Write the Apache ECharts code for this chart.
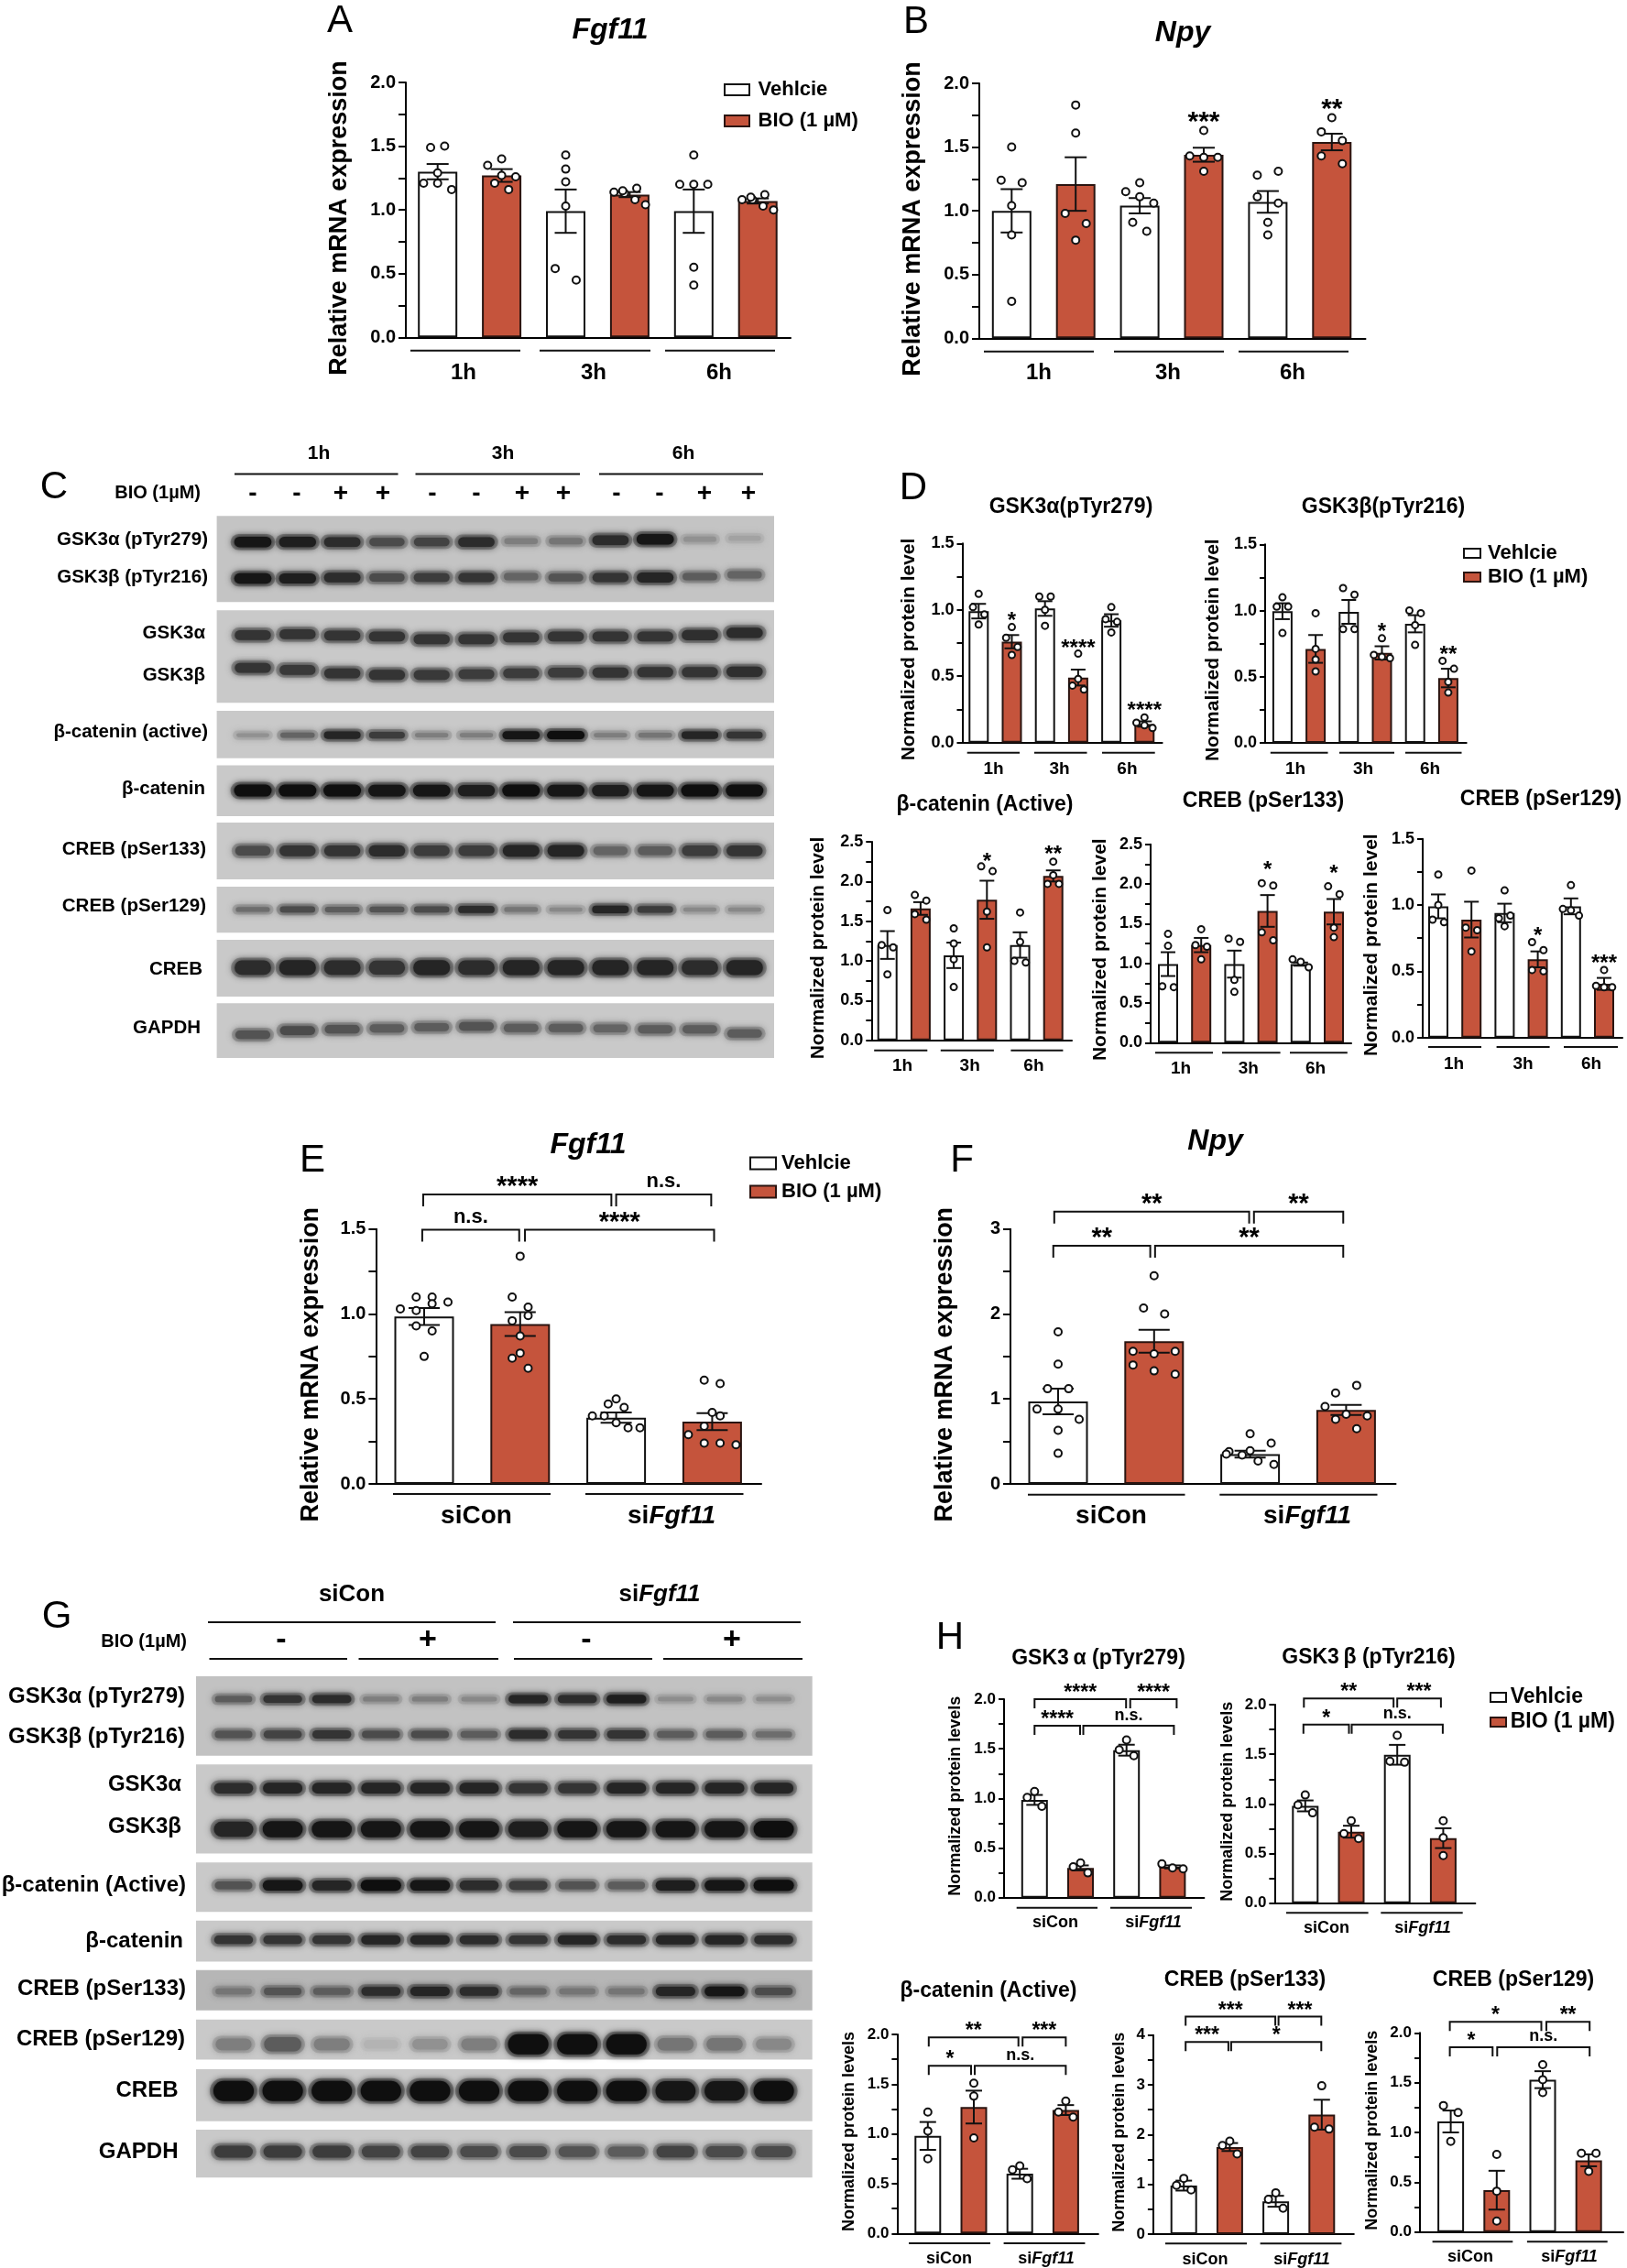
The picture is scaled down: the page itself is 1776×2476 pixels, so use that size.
<!DOCTYPE html>
<html>
<head>
<meta charset="utf-8">
<title>BIO Fgf11 Npy figure</title>
<script src="https://cdn.jsdelivr.net/npm/echarts@6/dist/echarts.min.js"></script>
<style>
  body { margin: 0; background: #fff; }
  #chart { width: 1776px; height: 2476px; }
</style>
</head>
<body>
<div id="chart"></div>
<script>
// dots are stored per bar as rows, left to right
// [a, null, b] is a pair that sits wider apart than a normal pair
const timeGroups = ['1h', '3h', '6h'];
const siGroups = ['siCon', 'si{i|Fgf11}'];
const groupSign = ['-', '-', '+', '+', '-', '-', '+', '+', '-', '-', '+', '+'];

// A
const fgf11TimeMeans = [1.30, 1.27, 0.99, 1.12, 0.99, 1.07];
const fgf11TimeSems = [0.06, 0.05, 0.17, 0.02, 0.17, 0.02];
const fgf11TimeDots = [
  [[1.49, 1.50], [1.29], [1.21, 1.21, 1.16]],
  [[1.40], [1.35, 1.27, 1.26], [1.21, 1.16]],
  [[1.43], [1.32], [1.22], [1.03], [0.54, null, 0.45]],
  [[1.14, 1.13, 1.08, 1.04], [1.15, 1.17]],
  [[1.43], [1.20, 1.20, 1.20], [0.55], [0.41]],
  [[1.08, 1.08, 1.03, 1.00], [1.10, 1.12]]
];

// B
const npyTimeMeans = [1.00, 1.21, 1.04, 1.44, 1.07, 1.54];
const npyTimeSems = [0.17, 0.21, 0.06, 0.055, 0.085, 0.065];
const npyTimeDots = [
  [[1.50], [1.24, null, 1.22], [1.04], [0.81], [0.29]],
  [[1.83], [1.61], [0.98, null, 0.90], [0.77]],
  [[1.22], [1.15, 1.11, 1.06], [0.91, 0.84]],
  [[1.63], [1.43, 1.42, 1.42], [1.31]],
  [[1.28, null, 1.31], [1.11, null, 1.06], [0.91], [0.81]],
  [[1.73], [1.62, null, 1.55], [1.43, null, 1.37]]
];
const npyTimeSigs = [[3, 1.74, '***'], [5, 1.84, '**']];

// D
const gsk3aMeans = [0.99, 0.76, 1.01, 0.49, 0.92, 0.14];
const gsk3aSems = [0.055, 0.05, 0.055, 0.06, 0.047, 0.02];
const gsk3aDots = [
  [[1.12], [1.02, 0.965], [0.89]],
  [[0.87], [0.79, 0.72], [0.66]],
  [[1.10, 1.10], [1.00], [0.88]],
  [[0.67], [0.48], [0.43, 0.40]],
  [[1.02], [0.93, 0.91], [0.83]],
  [[0.19], [0.15, 0.13, 0.11]]
];
const gsk3aSigs = [[1, 0.95, '*'], [3, 0.74, '****'], [5, 0.27, '****']];

const gsk3bMeans = [0.995, 0.71, 0.99, 0.68, 0.90, 0.49];
const gsk3bSems = [0.06, 0.105, 0.09, 0.05, 0.065, 0.07];
const gsk3bDots = [
  [[1.10], [1.03, 1.03], [0.83]],
  [[0.98], [0.71], [0.63], [0.54]],
  [[1.17, 1.12], [0.86, 0.86]],
  [[0.79], [0.665, 0.65, 0.64]],
  [[1.00, 0.98], [0.89], [0.74]],
  [[0.62, 0.56], [0.46], [0.38]]
];
const gsk3bSigs = [[3, 0.87, '*'], [5, 0.70, '**']];

const bcatMeans = [1.20, 1.66, 1.07, 1.77, 1.20, 2.07];
const bcatSems = [0.175, 0.08, 0.16, 0.24, 0.16, 0.07];
const bcatDots = [
  [[1.64], [1.20, 1.17], [0.83]],
  [[1.83, 1.76], [1.59, 1.52]],
  [[1.41], [1.22], [1.02], [0.67]],
  [[2.19, 2.13], [1.62], [1.17]],
  [[1.61], [1.24], [1.00, 0.98]],
  [[2.25], [2.08], [1.97, 1.97]]
];
const bcatSigs = [[3, 2.30, '*'], [5, 2.39, '**']];

const creb133Means = [0.99, 1.23, 0.99, 1.66, 0.99, 1.65];
const creb133Sems = [0.15, 0.09, 0.17, 0.20, 0.02, 0.16];
const creb133Dots = [
  [[1.37], [1.22], [0.71, 0.70]],
  [[1.43], [1.23, 1.21], [1.05]],
  [[1.31, 1.27], [0.79], [0.64]],
  [[2.01, 1.98], [1.39, 1.29]],
  [[1.05, 1.02, 0.95]],
  [[1.97, 1.87], [1.45], [1.33]]
];
const creb133Sigs = [[3, 2.23, '*'], [5, 2.18, '*']];

const creb129Means = [0.99, 0.89, 0.94, 0.59, 0.99, 0.405];
const creb129Sems = [0.09, 0.135, 0.07, 0.06, 0.06, 0.045];
const creb129Dots = [
  [[1.23], [1.00], [0.89, 0.87]],
  [[1.26], [0.83, 0.81], [0.65]],
  [[1.11], [0.90, 0.92], [0.84]],
  [[0.72, 0.66], [0.51, 0.50]],
  [[1.15], [0.97, 0.96, 0.92]],
  [[0.51], [0.39, 0.38, 0.38]]
];
const creb129Sigs = [[3, 0.80, '*'], [5, 0.59, '***']];

// E
const fgf11SiMeans = [0.985, 0.94, 0.39, 0.366];
const fgf11SiSems = [0.05, 0.07, 0.03, 0.05];
const fgf11SiDots = [
  [[1.10, 1.10], [1.03, 1.02, 1.06, 1.07], [0.93, 0.90], [0.75]],
  [[1.34], [1.10, 1.04], [0.96, 0.99], [0.87], [0.77], [0.74, 0.68]],
  [[0.50], [0.47, 0.45], [0.40, 0.40, 0.36, 0.33, 0.33]],
  [[0.61, 0.59], [0.42], [0.34, 0.40], [0.29, 0.24, 0.24, 0.23]]
];
const fgf11SiBrackets = [
  [-0.02, 0.99, 1.496, 'n.s.'], [1.05, 3.02, 1.496, '****'],
  [-0.01, 1.95, 1.703, '****'], [2.0, 2.99, 1.703, 'n.s.']
];

// F
const npySiMeans = [0.97, 1.68, 0.35, 0.87];
const npySiSems = [0.15, 0.135, 0.04, 0.06];
const npySiDots = [
  [[1.79], [1.41], [1.12, 1.12], [0.88, 0.88, 0.76], [0.63], [0.36]],
  [[2.45], [2.07, 2.00], [1.56, 1.53, 1.56], [1.40, 1.33, 1.29]],
  [[0.59], [0.38, 0.39, 0.48], [0.35, 0.34, 0.27, 0.23]],
  [[1.07, 1.16], [0.91, 0.82, 0.80], [0.76, 0.65]]
];
const npySiBrackets = [
  [-0.05, 0.96, 2.803, '**'], [1.01, 2.97, 2.803, '**'],
  [-0.04, 1.99, 3.205, '**'], [2.04, 2.97, 3.205, '**']
];

// H
const siGsk3aMeans = [0.985, 0.30, 1.486, 0.31];
const siGsk3aSems = [0.05, 0.025, 0.055, 0.015];
const siGsk3aDots = [
  [[1.07], [1.01, 0.92]],
  [[0.35], [0.31, 0.25]],
  [[1.59], [1.49, 1.43]],
  [[0.34, 0.30, 0.29]]
];
const siGsk3aBrackets = [
  [0, 0.99, 1.732, '****'], [1.06, 3.03, 1.732, 'n.s.'],
  [0, 1.99, 2.0, '****'], [2.08, 3.09, 2.0, '****']
];

const siGsk3bMeans = [0.98, 0.72, 1.495, 0.655];
const siGsk3bSems = [0.055, 0.06, 0.10, 0.10];
const siGsk3bDots = [
  [[1.09], [0.99, 0.91]],
  [[0.83], [0.70, 0.65]],
  [[1.69], [1.43, 1.42]],
  [[0.83], [0.66], [0.48]]
];
const siGsk3bBrackets = [
  [-0.04, 0.95, 1.80, '*'], [1.01, 2.99, 1.80, 'n.s.'],
  [-0.03, 1.92, 2.062, '**'], [2.0, 2.95, 2.062, '***']
];

const siBcatMeans = [0.98, 1.27, 0.60, 1.24];
const siBcatSems = [0.14, 0.165, 0.05, 0.05];
const siBcatDots = [
  [[1.22], [1.03], [0.75]],
  [[1.51], [1.38], [0.96]],
  [[0.68], [0.64, 0.55]],
  [[1.33], [1.22, 1.17]]
];
const siBcatBrackets = [
  [0.02, 0.94, 1.684, '*'], [1.02, 3.0, 1.684, 'n.s.'],
  [0.02, 1.97, 1.97, '**'], [2.06, 3.0, 1.97, '***']
];

const siCreb133Means = [0.975, 1.75, 0.66, 2.40];
const siCreb133Sems = [0.10, 0.08, 0.11, 0.30];
const siCreb133Dots = [
  [[1.12], [0.98, 0.89]],
  [[1.87], [1.78, 1.61]],
  [[0.83], [0.70, 0.52]],
  [[2.98], [2.15, 2.11]]
];
const siCreb133Brackets = [
  [0.04, 0.97, 3.86, '***'], [1.03, 2.99, 3.86, '*'],
  [0.04, 1.99, 4.37, '***'], [2.06, 2.99, 4.37, '***']
];

const siCreb129Means = [1.11, 0.42, 1.53, 0.72];
const siCreb129Sems = [0.11, 0.195, 0.085, 0.06];
const siCreb129Dots = [
  [[1.27, 1.20], [0.91]],
  [[0.78], [0.41], [0.11]],
  [[1.68], [1.53], [1.40]],
  [[0.79, 0.79], [0.61]]
];
const siCreb129Brackets = [
  [-0.02, 0.91, 1.856, '*'], [1.01, 3.02, 1.856, 'n.s.'],
  [-0.02, 1.97, 2.11, '*'], [2.08, 3.02, 2.11, '**']
];

// blot band strength per lane, 0 is nothing and 1 is saturated
const cPgsk3a = [0.95, 0.9, 0.8, 0.6, 0.65, 0.8, 0.3, 0.35, 0.8, 0.95, 0.2, 0.12];
const cPgsk3b = [0.95, 0.9, 0.8, 0.6, 0.7, 0.75, 0.45, 0.55, 0.75, 0.85, 0.5, 0.45];
const cGsk3a = [0.75, 0.75, 0.75, 0.75, 0.75, 0.75, 0.75, 0.75, 0.75, 0.75, 0.78, 0.8];
const cGsk3b = [0.75, 0.72, 0.75, 0.75, 0.72, 0.7, 0.7, 0.7, 0.75, 0.75, 0.75, 0.78];
const cActiveCat = [0.2, 0.45, 0.85, 0.7, 0.3, 0.3, 0.95, 1, 0.3, 0.35, 0.85, 0.75];
const cCatenin = [1, 1, 1, 0.95, 0.95, 0.9, 1, 0.95, 0.9, 0.95, 1, 1];
const cCreb133 = [0.6, 0.75, 0.75, 0.8, 0.7, 0.7, 0.85, 0.85, 0.45, 0.5, 0.7, 0.75];
const cCreb129 = [0.4, 0.6, 0.5, 0.55, 0.6, 0.8, 0.35, 0.25, 0.85, 0.7, 0.25, 0.25];
const cCreb = [0.8, 0.85, 0.8, 0.75, 0.85, 0.8, 0.85, 0.85, 0.85, 0.85, 0.8, 0.85];
const cGapdh = [0.55, 0.6, 0.55, 0.5, 0.5, 0.55, 0.5, 0.5, 0.45, 0.5, 0.5, 0.5];

const gPgsk3a = [0.5, 0.75, 0.8, 0.3, 0.3, 0.25, 0.85, 0.8, 0.9, 0.22, 0.25, 0.22];
const gPgsk3b = [0.55, 0.65, 0.75, 0.6, 0.6, 0.5, 0.8, 0.75, 0.75, 0.5, 0.5, 0.4];
const gGsk3a = [0.8, 0.85, 0.85, 0.85, 0.85, 0.85, 0.75, 0.75, 0.85, 0.85, 0.85, 0.85];
const gGsk3b = [0.85, 0.95, 0.95, 0.95, 0.95, 0.95, 0.9, 0.95, 0.95, 0.95, 0.95, 1];
const gActiveCat = [0.55, 0.95, 0.85, 1, 0.95, 0.8, 0.7, 0.55, 0.5, 0.9, 0.95, 1];
const gCatenin = [0.75, 0.75, 0.75, 0.85, 0.85, 0.8, 0.75, 0.85, 0.8, 0.85, 0.85, 0.8];
const gCreb133 = [0.35, 0.55, 0.5, 0.8, 0.85, 0.8, 0.45, 0.35, 0.35, 0.85, 0.95, 0.6];
const gCreb129 = [0.3, 0.5, 0.3, 0.05, 0.2, 0.3, 1, 1, 1, 0.35, 0.35, 0.25];
const gCreb = [1, 1, 1, 1, 1, 1, 1, 1, 1, 0.95, 0.95, 1];
const gGapdh = [0.7, 0.7, 0.7, 0.65, 0.65, 0.6, 0.6, 0.55, 0.5, 0.65, 0.6, 0.6];

const FONT = '"Liberation Sans", Arial, sans-serif';
const RED = '#C5543C';
const graphics = [];
const grids = [], xAxes = [], yAxes = [], series = [];

function text(str, x, y, size, opt) {
  opt = opt || {};
  const weight = opt.weight || 'bold';
  const italic = opt.italic ? 'italic ' : '';
  graphics.push({
    type: 'text', x: x, y: y, rotation: opt.rotate || 0, silent: true,
    style: {
      text: str, fill: '#000', align: opt.align || 'center', verticalAlign: 'middle',
      font: italic + weight + ' ' + size + 'px ' + FONT,
      rich: { i: { fontFamily: FONT, fontSize: size, fontWeight: 'bold', fontStyle: 'italic', fill: '#000' } }
    }
  });
}

function hline(x1, x2, y, width) {
  graphics.push({
    type: 'line', silent: true,
    shape: { x1: x1, y1: y, x2: x2, y2: y },
    style: { stroke: '#111', lineWidth: width || 2 }
  });
}

function legend(boxX, boxW, y1, y2, boxH, textX, size) {
  graphics.push({ type: 'rect', silent: true, shape: { x: boxX, y: y1 - boxH / 2, width: boxW, height: boxH }, style: { fill: '#fff', stroke: '#111', lineWidth: 2 } });
  graphics.push({ type: 'rect', silent: true, shape: { x: boxX, y: y2 - boxH / 2, width: boxW, height: boxH }, style: { fill: RED, stroke: '#2a1410', lineWidth: 2 } });
  text('Vehlcie', textX, y1, size, { align: 'left' });
  text('BIO (1 \u00b5M)', textX, y2, size, { align: 'left' });
}

// turn rows of dot values into [bar position, value] pairs
function dotPoints(rows, p) {
  const out = [];
  rows.forEach((barRows, bar) => {
    barRows.forEach(row => {
      const n = row.length;
      const wide = n === 3 && row[1] === null;
      const step = wide ? p.slot * 0.75 : Math.min(p.slot, n > 1 ? 0.8 * p.barW / (n - 1) : p.slot);
      row.forEach((v, k) => {
        if (v === null) return;
        out.push([bar + (k - (n - 1) / 2) * step / p.dx, v]);
      });
    });
  });
  return out;
}

function addPanel(p) {
  const idx = grids.length;
  const yMax = p.yMax;
  grids.push({ left: p.left, top: p.top, width: p.right - p.left, height: p.bottom - p.top });
  xAxes.push({
    type: 'value', gridIndex: idx,
    min: (p.left - p.x0) / p.dx, max: (p.right - p.x0) / p.dx,
    axisLine: { show: true, onZero: false, lineStyle: { color: '#000', width: 2 } },
    axisTick: { show: false }, axisLabel: { show: false }, splitLine: { show: false }
  });
  yAxes.push({
    type: 'value', gridIndex: idx, min: 0, max: yMax, interval: p.interval,
    axisLine: { show: true, onZero: false, lineStyle: { color: '#000', width: 2 } },
    axisTick: { show: true, length: p.tick, lineStyle: { color: '#000', width: 2 } },
    minorTick: { show: true, splitNumber: 2, length: p.tick, lineStyle: { color: '#000', width: 2 } },
    minorSplitLine: { show: false }, splitLine: { show: false },
    axisLabel: {
      color: '#000', fontFamily: FONT, fontWeight: 'bold', fontSize: p.tickFont, margin: p.tick + 3,
      formatter: v => p.interval >= 1 ? String(v) : v.toFixed(1)
    }
  });
  series.push({
    type: 'bar', xAxisIndex: idx, yAxisIndex: idx, barWidth: p.barW, clip: false, silent: true,
    data: p.means.map((m, i) => ({
      value: [i, m],
      itemStyle: i % 2 === 0
        ? { color: '#fff', borderColor: '#111', borderWidth: 2 }
        : { color: RED, borderColor: '#2a1410', borderWidth: 2 }
    }))
  });
  series.push({
    type: 'custom', xAxisIndex: idx, yAxisIndex: idx, silent: true, z: 3,
    data: p.means.map((m, i) => [i, m, p.sems[i]]),
    renderItem: (params, api) => {
      const hi = api.coord([api.value(0), api.value(1) + api.value(2)]);
      const lo = api.coord([api.value(0), api.value(1) - api.value(2)]);
      const st = { stroke: '#111', lineWidth: 2 };
      return {
        type: 'group', children: [
          { type: 'line', shape: { x1: hi[0], y1: hi[1], x2: lo[0], y2: lo[1] }, style: st },
          { type: 'line', shape: { x1: hi[0] - p.cap, y1: hi[1], x2: hi[0] + p.cap, y2: hi[1] }, style: st },
          { type: 'line', shape: { x1: lo[0] - p.cap, y1: lo[1], x2: lo[0] + p.cap, y2: lo[1] }, style: st }
        ]
      };
    }
  });
  series.push({
    type: 'scatter', xAxisIndex: idx, yAxisIndex: idx, silent: true, z: 4, clip: false,
    symbol: 'circle', symbolSize: p.dot || 8,
    itemStyle: { color: '#fff', borderColor: '#111', borderWidth: 2, opacity: 1 },
    data: dotPoints(p.dots, p)
  });
  if (p.sigs) {
    series.push({
      type: 'custom', xAxisIndex: idx, yAxisIndex: idx, silent: true, z: 5,
      data: p.sigs.map(s => [s[0], s[1]]),
      renderItem: (params, api) => {
        const c = api.coord([api.value(0), api.value(1)]);
        return {
          type: 'text',
          style: {
            x: c[0], y: c[1] + p.starFont * 0.22, text: p.sigs[params.dataIndex][2], fill: '#000',
            font: 'bold ' + p.starFont + 'px ' + FONT, align: 'center', verticalAlign: 'middle'
          }
        };
      }
    });
  }
  if (p.brackets) {
    series.push({
      type: 'custom', xAxisIndex: idx, yAxisIndex: idx, silent: true, z: 5,
      data: p.brackets.map(b => [b[0], b[1], b[2]]),
      renderItem: (params, api) => {
        const a = api.coord([api.value(0), api.value(2)]);
        const b = api.coord([api.value(1), api.value(2)]);
        const label = p.brackets[params.dataIndex][3];
        const isStar = label.charAt(0) === '*';
        const size = isStar ? p.starFont : p.nsFont;
        return {
          type: 'group', children: [
            {
              type: 'polyline',
              shape: { points: [[a[0], a[1] + p.drop], [a[0], a[1]], [b[0], b[1]], [b[0], b[1] + p.drop]] },
              style: { stroke: '#111', lineWidth: 2, fill: null }
            },
            {
              type: 'text',
              style: {
                x: (a[0] + b[0]) / 2, y: a[1] - p.gap + (isStar ? size * 0.22 : 0), text: label, fill: '#000',
                font: 'bold ' + size + 'px ' + FONT, align: 'center', verticalAlign: 'middle'
              }
            }
          ]
        };
      }
    });
  }
  if (p.title) text(p.title, p.titleX, p.titleY, p.titleFont, { italic: p.titleItalic });
  text(p.yName, p.yNameX, p.yNameY, p.yNameFont, { rotate: Math.PI / 2 });
  p.lines.forEach(l => hline(l[0], l[1], p.lineY, 2));
  p.groups.forEach((g, i) => text(g, p.groupX[i], p.groupY, p.groupFont));
}

const bigTime = { yMax: 2, interval: 0.5, barW: 43, cap: 12, slot: 15.3, dot: 8, tick: 8, tickFont: 20, starFont: 30, titleFont: 32, titleItalic: true, yNameFont: 27, groups: timeGroups, groupFont: 24, dx: 69.9 };
const smallTime = { barW: 22, cap: 8, slot: 12.5, dot: 7, tick: 6, tickFont: 18, starFont: 24, titleFont: 23, yNameFont: 21, yName: 'Normalized protein level', groups: timeGroups, groupFont: 19, dx: 36.2 };
const bigSi = { barW: 65, cap: 17, dot: 8, tick: 8, tickFont: 20, starFont: 29, nsFont: 22, drop: 13, titleFont: 32, titleItalic: true, yNameFont: 27, yName: 'Relative mRNA expression', groups: siGroups, groupFont: 28, dx: 104.8 };
const smallSi = { yMax: 2, interval: 0.5, barW: 29, cap: 9, slot: 16, dot: 8, tick: 6, tickFont: 17, starFont: 23, nsFont: 18, drop: 10, gap: 11.5, titleFont: 23, yNameFont: 18, yName: 'Normalized protein levels', groups: siGroups, groupFont: 18, dx: 50.2 };

addPanel(Object.assign({}, bigTime, {
  means: fgf11TimeMeans, sems: fgf11TimeSems, dots: fgf11TimeDots,
  left: 443, right: 863, top: 90, bottom: 368.3, x0: 477.7,
  title: 'Fgf11', titleX: 666, titleY: 33, yName: 'Relative mRNA expression', yNameX: 371, yNameY: 238,
  lines: [[448, 568], [589, 710], [726, 846]], lineY: 382.7, groupX: [506, 648, 785], groupY: 407
}));
addPanel(Object.assign({}, bigTime, {
  means: npyTimeMeans, sems: npyTimeSems, dots: npyTimeDots, sigs: npyTimeSigs,
  left: 1069, right: 1490.5, top: 91, bottom: 369.3, x0: 1104.3,
  title: 'Npy', titleX: 1291, titleY: 36, yName: 'Relative mRNA expression', yNameX: 997, yNameY: 239,
  lines: [[1074, 1194], [1216, 1336], [1352, 1472]], lineY: 383.7, groupX: [1134, 1275, 1411], groupY: 407
}));
addPanel(Object.assign({}, smallTime, {
  means: gsk3aMeans, sems: gsk3aSems, dots: gsk3aDots, sigs: gsk3aSigs, yMax: 1.5, interval: 0.5,
  left: 1050.5, right: 1268.6, top: 593.3, bottom: 810.7, x0: 1068.3,
  title: 'GSK3\u03b1(pTyr279)', titleX: 1169, titleY: 554, yNameX: 992, yNameY: 709,
  lines: [[1055.7, 1113], [1129, 1186.5], [1203, 1260.7]], lineY: 821.7, groupX: [1084.5, 1156.6, 1230.4], groupY: 840
}));
addPanel(Object.assign({}, smallTime, {
  means: gsk3bMeans, sems: gsk3bSems, dots: gsk3bDots, sigs: gsk3bSigs, yMax: 1.5, interval: 0.5,
  left: 1381, right: 1600.7, top: 594.3, bottom: 811, x0: 1399.9,
  title: 'GSK3\u03b2(pTyr216)', titleX: 1510, titleY: 554, yNameX: 1324.5, yNameY: 709.7,
  lines: [[1386.8, 1449.5], [1462, 1522], [1534, 1595.5]], lineY: 821.7, groupX: [1414, 1488, 1561], groupY: 840
}));
addPanel(Object.assign({}, smallTime, {
  means: bcatMeans, sems: bcatSems, dots: bcatDots, sigs: bcatSigs, yMax: 2.5, interval: 0.5,
  left: 951.3, right: 1170, top: 919, bottom: 1135.7, x0: 968.7,
  title: '\u03b2-catenin (Active)', titleX: 1075, titleY: 878.3, yNameX: 893, yNameY: 1035,
  lines: [[954.2, 1012.3], [1026.8, 1084.9], [1103.4, 1160.4]], lineY: 1146.7, groupX: [985, 1058.7, 1128.4], groupY: 1164
}));
addPanel(Object.assign({}, smallTime, {
  means: creb133Means, sems: creb133Sems, dots: creb133Dots, sigs: creb133Sigs, yMax: 2.5, interval: 0.5,
  left: 1256, right: 1475, top: 921.7, bottom: 1138.3, x0: 1275,
  title: 'CREB (pSer133)', titleX: 1379, titleY: 875, yNameX: 1201, yNameY: 1036.7,
  lines: [[1261, 1324], [1334, 1397.6], [1408, 1470.8]], lineY: 1149.3, groupX: [1289, 1362.8, 1436], groupY: 1166.7
}));
addPanel(Object.assign({}, smallTime, {
  means: creb129Means, sems: creb129Sems, dots: creb129Dots, sigs: creb129Sigs, yMax: 1.5, interval: 0.5,
  left: 1553, right: 1771, top: 915.7, bottom: 1132.7, x0: 1570,
  title: 'CREB (pSer129)', titleX: 1682, titleY: 872.7, yNameX: 1497, yNameY: 1031.7,
  lines: [[1559, 1617], [1633.6, 1691.6], [1707, 1766]], lineY: 1143, groupX: [1587, 1662.6, 1737], groupY: 1162
}));
addPanel(Object.assign({}, bigSi, {
  means: fgf11SiMeans, sems: fgf11SiSems, dots: fgf11SiDots, brackets: fgf11SiBrackets,
  yMax: 1.5, interval: 0.5, slot: 17.4, gap: 14,
  left: 410.4, right: 831, top: 1341.7, bottom: 1620, x0: 463,
  title: 'Fgf11', titleX: 642, titleY: 1250, yNameX: 339.6, yNameY: 1489.7,
  lines: [[429, 601], [639, 811.5]], lineY: 1631, groupX: [520, 733], groupY: 1655.7
}));
addPanel(Object.assign({}, bigSi, {
  means: npySiMeans, sems: npySiSems, dots: npySiDots, brackets: npySiBrackets,
  yMax: 3, interval: 1, slot: 23, gap: 14,
  left: 1103, right: 1523.5, top: 1341.7, bottom: 1620, x0: 1155,
  title: 'Npy', titleX: 1326.5, titleY: 1246, yNameX: 1032, yNameY: 1489.7,
  lines: [[1122, 1293.5], [1331.3, 1503.5]], lineY: 1631.7, groupX: [1213, 1427], groupY: 1655.7
}));
addPanel(Object.assign({}, smallSi, {
  means: siGsk3aMeans, sems: siGsk3aSems, dots: siGsk3aDots, brackets: siGsk3aBrackets,
  left: 1096, right: 1314.4, top: 1855, bottom: 2071.7, x0: 1129.3,
  title: 'GSK3\u2009\u03b1 (pTyr279)', titleX: 1199, titleY: 1810.7, yNameX: 1043.4, yNameY: 1960.8,
  lines: [[1109.7, 1198], [1212, 1301]], lineY: 2082.7, groupX: [1152, 1259], groupY: 2099.3
}));
addPanel(Object.assign({}, smallSi, {
  means: siGsk3bMeans, sems: siGsk3bSems, dots: siGsk3bDots, brackets: siGsk3bBrackets,
  left: 1391.4, right: 1610.4, top: 1861, bottom: 2077.7, x0: 1424.8,
  title: 'GSK3\u2009\u03b2 (pTyr216)', titleX: 1494, titleY: 1809.3, yNameX: 1340, yNameY: 1966.7,
  lines: [[1404, 1493.6], [1507.3, 1596.7]], lineY: 2088.3, groupX: [1447.9, 1553], groupY: 2105
}));
addPanel(Object.assign({}, smallSi, {
  means: siBcatMeans, sems: siBcatSems, dots: siBcatDots, brackets: siBcatBrackets,
  left: 979.4, right: 1198.9, top: 2221, bottom: 2438.3, x0: 1012.8,
  title: '\u03b2-catenin (Active)', titleX: 1079, titleY: 2174, yNameX: 926.7, yNameY: 2327,
  lines: [[992, 1081], [1095.6, 1184.4]], lineY: 2449, groupX: [1036, 1142], groupY: 2466
}));
addPanel(Object.assign({}, smallSi, {
  means: siCreb133Means, sems: siCreb133Sems, dots: siCreb133Dots, brackets: siCreb133Brackets,
  yMax: 4, interval: 1,
  left: 1258.9, right: 1477.8, top: 2221.7, bottom: 2439, x0: 1292.2,
  title: 'CREB (pSer133)', titleX: 1359, titleY: 2161.7, yNameX: 1222, yNameY: 2327.7,
  lines: [[1272, 1361], [1375.6, 1464.4]], lineY: 2449.3, groupX: [1315.6, 1421], groupY: 2466.7
}));
addPanel(Object.assign({}, smallSi, {
  means: siCreb129Means, sems: siCreb129Sems, dots: siCreb129Dots, brackets: siCreb129Brackets,
  left: 1550, right: 1772, top: 2219.3, bottom: 2436.7, x0: 1583.6,
  title: 'CREB (pSer129)', titleX: 1652, titleY: 2161.7, yNameX: 1498, yNameY: 2325.7,
  lines: [[1563.6, 1651.3], [1666.9, 1754.7]], lineY: 2447.3, groupX: [1605, 1713], groupY: 2464.3
}));

legend(791, 27, 98, 132, 12, 827.5, 22);
legend(1598, 18, 604, 630, 10, 1624, 22);
legend(819, 28, 1270, 1301, 13, 853, 22);
legend(1627, 17, 1853, 1880, 10, 1648.7, 23);

// blots: lanes on x, page pixels on y, one custom series per row of bands
function addBlot(b) {
  const idx = grids.length;
  grids.push({ left: b.left, top: b.top, width: b.right - b.left, height: b.bottom - b.top });
  xAxes.push({ type: 'value', gridIndex: idx, show: false, min: (b.left - b.lane0) / b.laneDx, max: (b.right - b.lane0) / b.laneDx });
  yAxes.push({ type: 'value', gridIndex: idx, show: false, inverse: true, min: b.top, max: b.bottom });
  b.panels.forEach(r => {
    graphics.push({
      type: 'rect', silent: true,
      shape: { x: b.left, y: r[0], width: b.right - b.left, height: r[1] - r[0] },
      style: { fill: r[2] || '#c9c9c9' }
    });
  });
  b.rows.forEach(r => {
    series.push({
      type: 'custom', xAxisIndex: idx, yAxisIndex: idx, silent: true, z: 2,
      data: r.bands.map((v, i) => [i, r.y + (r.drift ? r.drift[i] : 0), v]),
      renderItem: (params, api) => {
        const c = api.coord([api.value(0), api.value(1)]);
        const v = api.value(2);
        const g = Math.round(195 - 180 * Math.pow(v, 0.8));
        const col = 'rgb(' + g + ',' + g + ',' + g + ')';
        const h = r.h * (0.45 + 0.55 * v);
        const w = b.bandW * (0.85 + 0.15 * v);
        return {
          type: 'group', children: [
            {
              type: 'rect', shape: { x: c[0] - w / 2 - 3, y: c[1] - h / 2 - 2, width: w + 6, height: h + 4, r: (h + 4) / 2 },
              style: { fill: col, opacity: 0.3, shadowBlur: 7, shadowColor: col }
            },
            {
              type: 'rect', shape: { x: c[0] - w / 2 + 1, y: c[1] - h / 2 + 1, width: w - 2, height: h - 2, r: (h - 2) / 2 },
              style: { fill: col, shadowBlur: 6, shadowColor: col }
            }
          ]
        };
      }
    });
    text(r.label, r.labelX, r.labelY, b.labelFont, { align: 'right' });
  });
}

addBlot({
  left: 236.6, right: 845, top: 560, bottom: 1160, lane0: 276, laneDx: 48.8, bandW: 43, labelFont: 20.5,
  panels: [[563.3, 657.2, '#c4c4c4'], [666.3, 767.2], [776, 827.8], [835.6, 891], [898, 960], [968, 1018.2], [1026, 1088], [1095.2, 1155]],
  rows: [
    { bands: cPgsk3a, y: 590.7, h: 14, label: 'GSK3\u03b1 (pTyr279)', labelX: 227, labelY: 589, drift: [1, 1, 1, 1, 1, 1, 0, 0, -1, -2, -2, -3] },
    { bands: cPgsk3b, y: 630.5, h: 14, label: 'GSK3\u03b2 (pTyr216)', labelX: 227, labelY: 630.5, drift: [1, 1, 0, 0, 0, 0, -1, 0, 0, 0, -1, -3] },
    { bands: cGsk3a, y: 693.4, h: 15, label: 'GSK3\u03b1', labelX: 224, labelY: 691, drift: [0, -1, 0.5, 1.5, 4.5, 4.5, 2.5, 1.5, 1.5, 1.5, 0, -2.5] },
    { bands: cGsk3b, y: 732.8, h: 15, label: 'GSK3\u03b2', labelX: 224, labelY: 737, drift: [-3.7, -1.4, 2.3, 4, 4, 3.2, 2.3, 1.4, 1.4, 1, 1, 0.5] },
    { bands: cActiveCat, y: 802.6, h: 11, label: '\u03b2-catenin (active)', labelX: 227, labelY: 799 },
    { bands: cCatenin, y: 863.1, h: 15, label: '\u03b2-catenin', labelX: 224, labelY: 861 },
    { bands: cCreb133, y: 928.8, h: 16, label: 'CREB (pSer133)', labelX: 225, labelY: 927.5 },
    { bands: cCreb129, y: 992.9, h: 11, label: 'CREB (pSer129)', labelX: 225, labelY: 989.5 },
    { bands: cCreb, y: 1056.4, h: 20, label: 'CREB', labelX: 221, labelY: 1058 },
    { bands: cGapdh, y: 1123.7, h: 15, label: 'GAPDH', labelX: 219, labelY: 1122.5, drift: [6, 1.4, 0, -1, -2.3, -3.2, -1.4, -1.4, -1, 0, 0, 4.6] }
  ]
});
addBlot({
  left: 214, right: 886.7, top: 1826, bottom: 2385, lane0: 255, laneDx: 53.6, bandW: 46, labelFont: 24,
  panels: [[1829.9, 1916.7, '#c2c2c2'], [1926.3, 2023.6], [2033.2, 2087.3], [2096.8, 2141.5], [2150.8, 2194.7, '#b6b6b6'], [2204.8, 2248.6], [2258.9, 2315.7], [2325, 2377.3]],
  rows: [
    { bands: gPgsk3a, y: 1854.9, h: 12, label: 'GSK3\u03b1 (pTyr279)', labelX: 202, labelY: 1852.5 },
    { bands: gPgsk3b, y: 1893.5, h: 13, label: 'GSK3\u03b2 (pTyr216)', labelX: 202, labelY: 1896 },
    { bands: gGsk3a, y: 1952.2, h: 15, label: 'GSK3\u03b1', labelX: 198, labelY: 1948.5 },
    { bands: gGsk3b, y: 1997, h: 20, label: 'GSK3\u03b2', labelX: 198, labelY: 1994.5 },
    { bands: gActiveCat, y: 2058.3, h: 14, label: '\u03b2-catenin (Active)', labelX: 203, labelY: 2058.8 },
    { bands: gCatenin, y: 2117.7, h: 13, label: '\u03b2-catenin', labelX: 200, labelY: 2119 },
    { bands: gCreb133, y: 2174, h: 13, label: 'CREB (pSer133)', labelX: 203, labelY: 2171.5 },
    { bands: gCreb129, y: 2231.8, h: 24, label: 'CREB (pSer129)', labelX: 202, labelY: 2226 },
    { bands: gCreb, y: 2282.7, h: 24, label: 'CREB', labelX: 194.5, labelY: 2282.7 },
    { bands: gGapdh, y: 2349, h: 18, label: 'GAPDH', labelX: 194.5, labelY: 2349.5 }
  ]
});

// blot headers
timeGroups.forEach((g, i) => text(g, [348, 549, 746][i], 495, 21));
hline(256, 434.5, 517.5); hline(453.5, 633, 517.5); hline(654, 833, 517.5);
text('BIO (1\u00b5M)', 219, 538, 20, { align: 'right' });
[276, 324, 372, 418, 472, 520, 570, 615, 673, 720, 769, 817].forEach((x, i) => text(groupSign[i], x, 539, 28));

siGroups.forEach((g, i) => text(g, [384, 720][i], 1741, 26));
hline(227, 541, 1771); hline(560, 874, 1771);
hline(228.5, 379, 1811); hline(391.5, 544, 1811); hline(561, 712, 1811); hline(724, 876, 1811);
text('BIO (1\u00b5M)', 204, 1792.7, 20, { align: 'right' });
['-', '+', '-', '+'].forEach((s, i) => text(s, [307, 467, 640, 799][i], 1791, 34));

// panel letters
[['A', 371, 23], ['B', 1000, 24], ['C', 59, 532], ['D', 997, 533], ['E', 341, 1267], ['F', 1050, 1267], ['G', 62, 1765], ['H', 1037, 1788]]
  .forEach(l => text(l[0], l[1], l[2], 42, { weight: 'normal' }));

const chart = echarts.init(document.getElementById('chart'), null, { renderer: 'canvas' });
chart.setOption({
  animation: false,
  backgroundColor: '#fff',
  grid: grids,
  xAxis: xAxes,
  yAxis: yAxes,
  series: series,
  graphic: { elements: graphics }
});
</script>
</body>
</html>
